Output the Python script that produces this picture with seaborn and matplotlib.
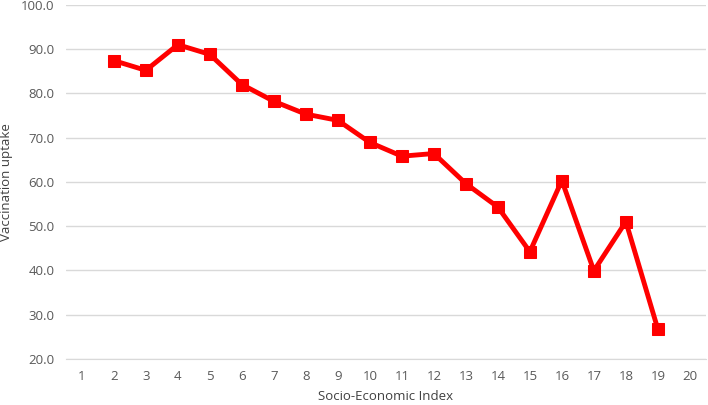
import matplotlib
matplotlib.use('Agg')
import matplotlib.pyplot as plt
import seaborn as sns
import pandas as pd

# duomenys nuskaityti nuo paveikslo
indeksas = [2, 3, 4, 5, 6, 7, 8, 9, 10, 11, 12, 13, 14, 15, 16, 17, 18, 19]
skiepijimas = [87.4, 85.2, 91.0, 88.8, 82.0, 78.2, 75.3, 73.9, 68.9, 65.8, 66.4,
               59.6, 54.3, 44.2, 60.3, 39.9, 51.0, 26.7]
x_zymes = list(range(1, 21))
y_zymes = [20, 30, 40, 50, 60, 70, 80, 90, 100]

df = pd.DataFrame({'Socio-Economic Index': indeksas, 'Vaccination uptake': skiepijimas})

sns.set_style('white')
plt.rcParams['font.family'] = ['Open Sans', 'DejaVu Sans']

fig = plt.figure(figsize=(7.08, 4.05), dpi=100)
ax = fig.add_axes([0.093, 0.114, 0.904, 0.874])

sns.lineplot(data=df, x='Socio-Economic Index', y='Vaccination uptake', ax=ax,
             color='#ff0000', linewidth=3.5, marker='s', markersize=9,
             markeredgecolor='#ff0000', zorder=3)

ax.set_xlim(0.5, 20.5)
ax.set_ylim(20, 100)
ax.set_xticks(x_zymes)
ax.set_yticks(y_zymes)
ax.set_yticklabels([f'{v:.1f}' for v in y_zymes])
ax.yaxis.grid(True, color='#d9d9d9', linewidth=1)
ax.set_axisbelow(True)
for s in ['top', 'right', 'left']:
    ax.spines[s].set_visible(False)
ax.spines['bottom'].set_color('#d9d9d9')
ax.tick_params(axis='both', length=0, labelsize=9.5, colors='#595959', pad=8)
ax.set_xlabel('Socio-Economic Index', fontsize=9.5, color='#404040', labelpad=5)
ax.set_ylabel('Vaccination uptake', fontsize=9.5, color='#404040', labelpad=6)

fig.savefig('out.png', dpi=100)
